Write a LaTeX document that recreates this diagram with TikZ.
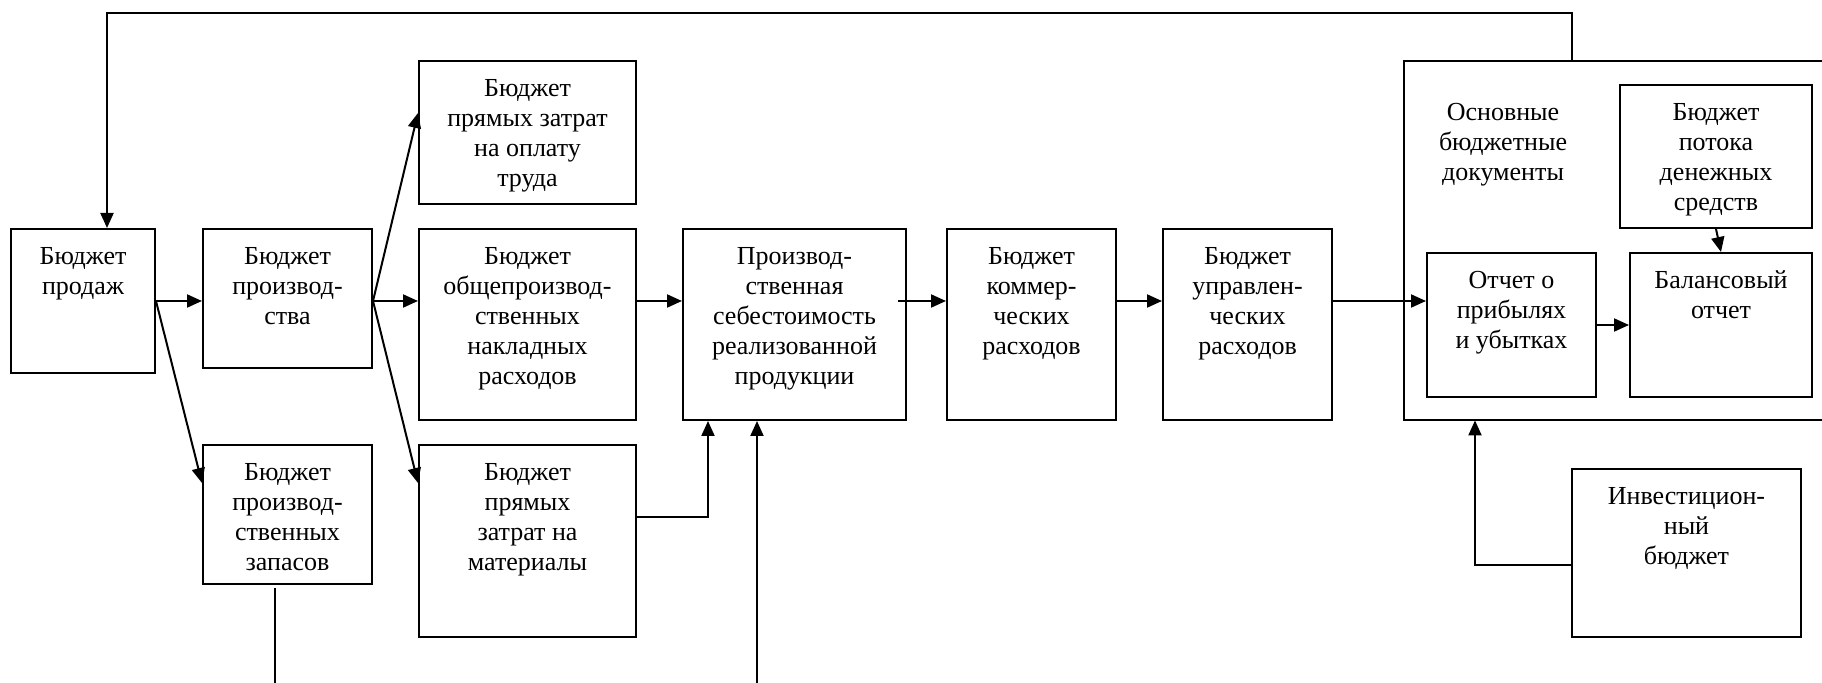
\documentclass[tikz,border=0pt]{standalone}
\usepackage{fontspec}
\setmainfont{Liberation Serif}
\usetikzlibrary{arrows.meta,calc}
\tikzset{
  box/.style={draw, line width=1pt, inner sep=0pt},
  txt/.style={inner sep=0pt, align=center, font=\fontsize{13}{15}\selectfont},
  arr/.style={line width=1pt, -{Triangle[length=7.5pt,width=6.5pt]}},
  ln/.style={line width=1pt},
}
\newcommand\mybox[6]{%
  \node[box, minimum width={(#4-#2)*0.5pt}, minimum height={(#5-#3)*0.5pt}] (#1) at ({(#2+#4)/2},{(#3+#5)/2}) {};
  \node[txt, anchor=north] (#1-t) at ([yshift=-9.4pt]#1.north) {#6};}
\begin{document}
\begin{tikzpicture}[x=0.5pt,y=-0.5pt]
\useasboundingbox (0,0) rectangle (1822,683);
% boxes
\mybox{sales}{11}{229}{155}{373}{Бюджет\\продаж}
\mybox{prod}{203}{229}{372}{368}{Бюджет\\производ-\\ства}
\mybox{labor}{419}{61}{636}{204}{Бюджет\\прямых затрат\\на оплату\\труда}
\mybox{over}{419}{229}{636}{420}{Бюджет\\общепроизвод-\\ственных\\накладных\\расходов}
\mybox{cost}{683}{229}{906}{420}{Производ-\\ственная\\себестоимость\\реализованной\\продукции}
\mybox{comm}{947}{229}{1116}{420}{Бюджет\\коммер-\\ческих\\расходов}
\mybox{mgmt}{1163}{229}{1332}{420}{Бюджет\\управлен-\\ческих\\расходов}
\mybox{inv}{203}{445}{372}{584}{Бюджет\\производ-\\ственных\\запасов}
\mybox{mat}{419}{445}{636}{637}{Бюджет\\прямых\\затрат на\\материалы}
\mybox{cash}{1620}{85}{1812}{228}{Бюджет\\потока\\денежных\\средств}
\mybox{profit}{1427}{253}{1596}{397}{Отчет о\\прибылях\\и убытках}
\mybox{bal}{1630}{253}{1812}{397}{Балансовый\\отчет}
\mybox{invest}{1572}{469}{1801}{637}{Инвестицион-\\ный\\бюджет}
% container (open on the right)
\node[inner sep=0pt, minimum width={(1822-1404)*0.5pt}, minimum height={(420-61)*0.5pt}] (cont) at ({(1404+1822)/2},{(61+420)/2}) {};
\draw[ln] (cont.north east) -- (cont.north west) -- (cont.south west) -- (cont.south east);
\node[txt, anchor=north] (cont-t) at (1503,103) {Основные\\бюджетные\\документы};
% helper coordinates
\coordinate (fbR) at (1572,13);
\coordinate (fbL) at (107,13);
\coordinate (yA) at (0,483);
\coordinate (yM) at (0,517);
\coordinate (xM) at (708,0);
\coordinate (xB) at (757,683);
\coordinate (xI) at (275,588);
\coordinate (xIb) at (275,683);
\coordinate (xV) at (1475,565);
\coordinate (yL) at (0,113);
\coordinate (y301) at (0,301);
\coordinate (cs) at (898,301);
% connectors
\draw[arr] (cont.north -| fbR) -- (fbR) -- (fbL) -- (sales.north -| fbL);
\draw[arr] (sales.east |- y301) -- (prod.west |- y301);
\draw[arr] (sales.east |- y301) -- (inv.west |- yA);
\draw[arr] (prod.east |- y301) -- (labor.west |- yL);
\draw[arr] (prod.east |- y301) -- (over.west |- y301);
\draw[arr] (prod.east |- y301) -- (mat.west |- yA);
\draw[arr] (over.east |- y301) -- (cost.west |- y301);
\draw[arr] (mat.east |- yM) -- (xM |- yM) -- (cost.south -| xM);
\draw[arr] (xB) -- (cost.south -| xB);
\draw[ln] (xI) -- (xIb);
\draw[arr] (cs) -- (comm.west |- y301);
\draw[arr] (comm.east |- y301) -- (mgmt.west |- y301);
\draw[arr] (mgmt.east |- y301) -- (profit.west |- y301);
\draw[arr] (profit.east) -- (profit.east -| bal.west);
\draw[arr] (cash.south) -- (bal.north);
\draw[arr] (invest.west |- xV) -- (xV) -- (cont.south -| xV);
\end{tikzpicture}
\end{document}
